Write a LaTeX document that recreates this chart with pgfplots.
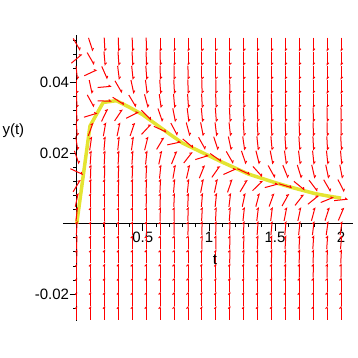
\documentclass[border=0pt]{standalone}
\usepackage{pgfplots}
\pgfplotsset{compat=1.18}
\usepackage{pgfplotstable}
\usepackage{fontspec}
\setmainfont{Liberation Sans}
\usetikzlibrary{arrows.meta}
\definecolor{fieldred}{RGB}{255,0,0}
\definecolor{solyellow}{RGB}{228,228,50}

% direction field: screen angle (degrees) of each arrow, rows = y, columns = t
\pgfplotstableread{
y c0 c1 c2 c3 c4 c5 c6 c7 c8 c9 c10 c11 c12 c13 c14 c15 c16 c17 c18 c19
-0.0253 90 90 90 90 90 90 90 90 90 90 90 90 90 90 90 90 90 90 90 90
-0.0213 90 90 90 90 90 90 90 90 90 90 90 90 90 90 90 90 90 90 90 90
-0.0173 90 90 90 90 90 90 90 90 90 90 90 90 90 90 90 90 90 90 90 90
-0.0133 90 90 90 90 90 90 90 90 90 90 90 90 90 90 90 89 89 89 89 89
-0.0093 89 90 90 90 90 90 90 90 90 90 90 89 89 89 88 88 88 88 88 87
-0.0053 88 90 90 90 90 90 90 90 90 89 89 89 88 88 88 87 87 86 86 85
-0.0013 87 90 90 90 90 90 90 89 89 89 88 88 87 86 85 85 84 83 82 82
0.0027 84 90 90 90 90 90 89 89 88 87 87 86 84 83 83 79 78 75 72 67
0.0067 78 90 90 90 90 89 88 87 87 85 84 83 78 75 70 61 52 39 22 6
0.0107 59 89 90 89 89 88 87 85 84 79 78 71 59 44 15 -17 -39 -53 -60 -63
0.0147 -25 88 89 88 88 87 84 80 77 68 55 24 -25 -48 -61 -68 -73 -77 -78 -79
0.0187 -71 86 87 87 86 84 78 68 52 17 -35 -60 -71 -76 -79 -82 -83 -84 -84 -85
0.0227 -82 82 85 84 82 76 59 12 -40 -61 -72 -78 -82 -84 -85 -86 -86 -87 -87 -87
0.0267 -86 70 80 78 71 47 -25 -62 -75 -79 -83 -84 -86 -87 -87 -88 -88 -88 -89 -89
0.0307 -88 17 64 56 27 -45 -71 -79 -83 -85 -86 -87 -88 -88 -88 -89 -89 -89 -89 -89
0.0347 -89 -61 -2 -33 -59 -75 -82 -85 -86 -87 -88 -88 -89 -89 -89 -90 -90 -90 -90 -90
0.0387 -90 -78 5 -60 -78 -83 -86 -87 -88 -89 -89 -89 -90 -90 -90 -90 -90 -90 -90 -90
0.0427 -84 25 -66 -83 -84 -86 -88 -89 -89 -90 -90 -90 -90 -90 -90 -90 -90 -90 -90 -90
0.0467 40 -60 -85 -86 -87 -88 -89 -90 -90 -90 -90 -90 -90 -90 -90 -90 -90 -90 -90 -90
0.0507 -60 -72 -87 -88 -88 -89 -90 -90 -90 -90 -90 -90 -90 -90 -90 -90 -90 -90 -90 -90
}\field

\newcommand{\fieldcol}[2]{%
  \addplot[fieldred, line width=1pt, -{Straight Barb[harpoon, length=1.6pt, width=3.2pt]},
    quiver={u={0.1059*cos(\thisrow{#2})}, v={0.003965*sin(\thisrow{#2})}}]
    table[x expr={#1-0.05295*cos(\thisrow{#2})}, y expr={\thisrow{y}-0.001982*sin(\thisrow{#2})}] {\field};}

\begin{document}
\begin{tikzpicture}
\begin{axis}[
  scale only axis, width=290pt, height=286pt,
  at={(0,0)}, anchor=south west,
  xmin=-0.104, xmax=2.09, ymin=-0.0276, ymax=0.0534,
  axis lines=middle, axis line style={black, line width=0.8pt, -},
  clip=false,
  scaled x ticks=false, scaled y ticks=false,
  tick align=outside,
  major tick length=7pt, minor tick length=3.5pt,
  tick style={black, line width=0.8pt},
  xtick={0.5,1,1.5,2}, xticklabels={0.5,1,1.5,2},
  ytick={-0.02,0.02,0.04}, yticklabels={-0.02,0.02,0.04},
  minor xtick={0.1,0.2,0.3,0.4,0.6,0.7,0.8,0.9,1.1,1.2,1.3,1.4,1.6,1.7,1.8,1.9},
  minor ytick={-0.024,-0.016,-0.012,-0.008,-0.004,0.004,0.008,0.012,0.016,0.024,0.028,0.032,0.036,0.044,0.048,0.052},
  tick label style={font=\fontsize{15}{18}\selectfont, black},
  xticklabel style={anchor=north, inner sep=0pt, yshift=-1pt},
  yticklabel style={anchor=east, inner sep=0pt, xshift=-0.5pt},
  xlabel={t}, ylabel={y(t)},
  label style={font=\fontsize{15}{18}\selectfont},
  xlabel style={at={(axis description cs:0.524,0.216)}, anchor=center},
  ylabel style={at={(axis description cs:-0.171,0.664)}, anchor=center, rotate=0},
]
\addplot[solyellow, line width=3.5pt, line join=round] coordinates {
(0,0) (0.1,0.0276) (0.2,0.0343) (0.3,0.0348) (0.4,0.0329) (0.5,0.0308)
(0.6,0.0281) (0.7,0.0254) (0.8,0.0228) (0.9,0.0210) (1.0,0.0192)
(1.1,0.0174) (1.2,0.0157) (1.3,0.0140) (1.4,0.0128) (1.5,0.0116)
(1.6,0.0105) (1.7,0.0095) (1.8,0.0085) (1.9,0.0078) (2.0,0.0072)};
\fieldcol{0}{c0}
\fieldcol{0.1053}{c1}
\fieldcol{0.2105}{c2}
\fieldcol{0.3158}{c3}
\fieldcol{0.4211}{c4}
\fieldcol{0.5263}{c5}
\fieldcol{0.6316}{c6}
\fieldcol{0.7368}{c7}
\fieldcol{0.8421}{c8}
\fieldcol{0.9474}{c9}
\fieldcol{1.0526}{c10}
\fieldcol{1.1579}{c11}
\fieldcol{1.2632}{c12}
\fieldcol{1.3684}{c13}
\fieldcol{1.4737}{c14}
\fieldcol{1.5789}{c15}
\fieldcol{1.6842}{c16}
\fieldcol{1.7895}{c17}
\fieldcol{1.8947}{c18}
\fieldcol{2}{c19}
\end{axis}
\pgfresetboundingbox
\path (-63pt,-37pt) rectangle (295pt,321pt);
\end{tikzpicture}
\end{document}
